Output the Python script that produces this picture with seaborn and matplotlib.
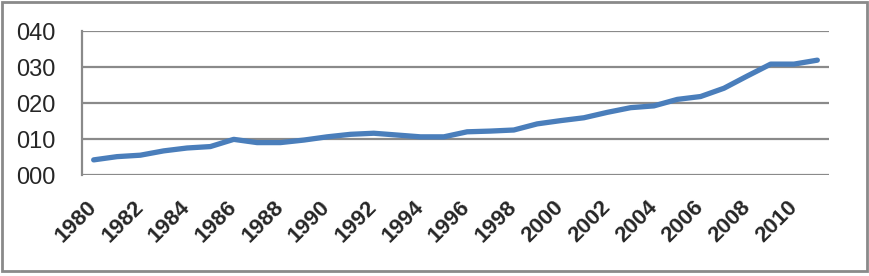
import matplotlib
matplotlib.use("Agg")
import matplotlib.pyplot as plt
import seaborn as sns
import pandas as pd
from matplotlib.patches import Rectangle

years = list(range(1980, 2012))
values = [4.2, 5.1, 5.5, 6.7, 7.5, 7.9, 9.9, 9.0, 9.0, 9.7,
          10.6, 11.3, 11.6, 11.1, 10.6, 10.6, 12.0, 12.2, 12.5, 14.2,
          15.1, 15.9, 17.4, 18.7, 19.2, 21.0, 21.8, 24.1, 27.5, 30.8,
          30.8, 31.9]
y_ticks = [0, 10, 20, 30, 40]
y_labels = ["000", "010", "020", "030", "040"]
x_ticks = list(range(1980, 2011, 2))

sns.set_theme(style="white")
plt.rcParams['font.family'] = ['Liberation Sans', 'DejaVu Sans']

df = pd.DataFrame({"year": years, "value": values})

fig = plt.figure(figsize=(8.7, 2.76), dpi=100)
ax = fig.add_axes([82/870, 1-175/276, (829-82)/870, (175-31)/276])

sns.lineplot(data=df, x="year", y="value", ax=ax, color="#4a7ebb",
             linewidth=3.8, solid_capstyle="round", solid_joinstyle="round",
             zorder=3)

ax.set_xlim(1979.5, 2011.5)
ax.set_ylim(0, 40)
ax.set_yticks(y_ticks)
ax.set_yticklabels(y_labels, fontsize=17)
ax.set_xticks(x_ticks)
ax.set_xticklabels([str(x) for x in x_ticks], fontsize=16, fontweight="bold",
                   rotation=45, ha="right", va="center", rotation_mode="anchor")
ax.tick_params(axis="x", length=0, pad=21)
ax.tick_params(axis="y", length=0, pad=19)
for lab in ax.get_yticklabels():
    lab.set_horizontalalignment("right")
ax.set_xlabel("")
ax.set_ylabel("")

grid_color = "#8a8a8a"
ax.yaxis.grid(True, color=grid_color, linewidth=1.6)
ax.xaxis.grid(False)
ax.set_axisbelow(True)
for s in ["top", "right", "bottom"]:
    ax.spines[s].set_visible(False)
ax.spines["left"].set_color(grid_color)
ax.spines["left"].set_linewidth(1.6)

fig.patches.append(Rectangle((2/870, 5/276), 865/870, 269/276,
                             transform=fig.transFigure, fill=False,
                             edgecolor="#8a8a8a", linewidth=2))

fig.savefig("out.png", dpi=100)
